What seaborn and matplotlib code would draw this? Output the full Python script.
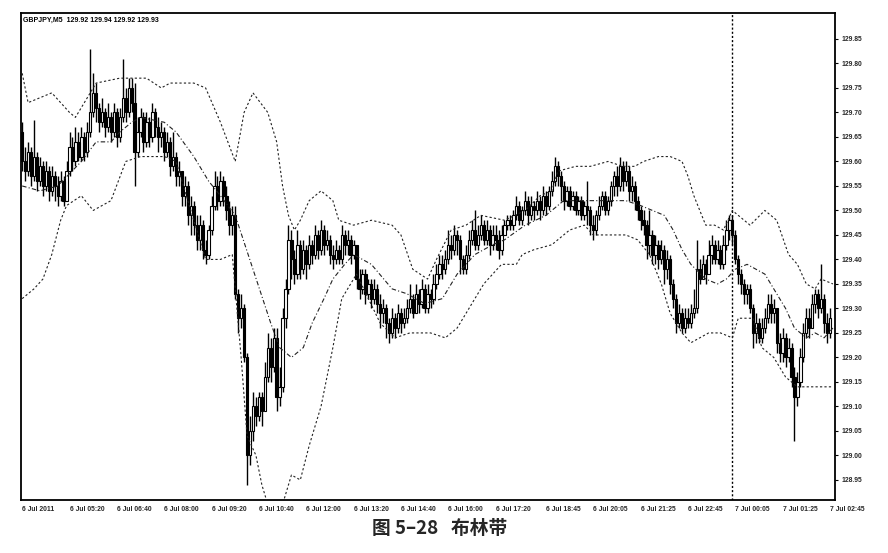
import numpy as np
import matplotlib
matplotlib.use("Agg")
import matplotlib.pyplot as plt
import seaborn as sns

# ---------------- data ----------------
first_open = 129.66
closes = [
    129.60, 129.58, 129.62, 129.57, 129.61, 129.56, 129.59, 129.55, 129.58, 129.54,
    129.57, 129.55, 129.53, 129.56, 129.52, 129.58, 129.63, 129.60, 129.64, 129.61,
    129.65, 129.62, 129.66, 129.70, 129.74, 129.71, 129.68, 129.70, 129.67, 129.69,
    129.66, 129.70, 129.65, 129.69, 129.73, 129.70, 129.75, 129.72, 129.62, 129.66,
    129.69, 129.64, 129.68, 129.65, 129.70, 129.67, 129.65, 129.66, 129.62, 129.64,
    129.59, 129.61, 129.57, 129.58, 129.53, 129.55, 129.49, 129.51, 129.47, 129.44,
    129.47, 129.42, 129.41, 129.46, 129.51, 129.55, 129.52, 129.56, 129.53, 129.50,
    129.47, 129.49, 129.33, 129.28, 129.30, 129.20, 129.00, 129.05, 129.10, 129.08,
    129.12, 129.09, 129.16, 129.22, 129.18, 129.24, 129.12, 129.14, 129.28, 129.34,
    129.44, 129.40, 129.37, 129.43, 129.38, 129.42, 129.39, 129.43, 129.41, 129.45,
    129.42, 129.46, 129.43, 129.44, 129.41, 129.40, 129.42, 129.40, 129.45, 129.43,
    129.44, 129.41, 129.43, 129.36, 129.34, 129.37, 129.33, 129.35, 129.32, 129.34,
    129.31, 129.29, 129.30, 129.27, 129.25, 129.28, 129.26, 129.29, 129.27, 129.28,
    129.30, 129.32, 129.29, 129.33, 129.31, 129.34, 129.30, 129.33, 129.32, 129.35,
    129.37, 129.39, 129.38, 129.40, 129.43, 129.42, 129.45, 129.44, 129.40, 129.38,
    129.41, 129.44, 129.46, 129.43, 129.45, 129.47, 129.44, 129.46, 129.43, 129.45,
    129.44, 129.42, 129.45, 129.47, 129.48, 129.47, 129.49, 129.51, 129.48, 129.50,
    129.52, 129.49, 129.51, 129.50, 129.52, 129.50, 129.53, 129.51, 129.54, 129.56,
    129.59, 129.57, 129.55, 129.52, 129.54, 129.51, 129.53, 129.50, 129.52, 129.49,
    129.51, 129.50, 129.47, 129.46, 129.49, 129.51, 129.53, 129.50, 129.52, 129.55,
    129.57, 129.55, 129.59, 129.56, 129.58, 129.54, 129.55, 129.52, 129.50, 129.48,
    129.47, 129.43, 129.45, 129.41, 129.43, 129.40, 129.42, 129.38, 129.40, 129.35,
    129.32, 129.27, 129.29, 129.26, 129.28, 129.27, 129.29, 129.30, 129.38, 129.36,
    129.39, 129.37, 129.41, 129.43, 129.40, 129.42, 129.39, 129.43, 129.46, 129.48,
    129.45, 129.40, 129.37, 129.35, 129.33, 129.34, 129.30, 129.25, 129.27, 129.24,
    129.26, 129.28, 129.31, 129.29, 129.30, 129.23, 129.21, 129.24, 129.20, 129.22,
    129.16, 129.12, 129.15, 129.20, 129.25, 129.28, 129.26, 129.31, 129.33, 129.30,
    129.32, 129.27, 129.25, 129.28,
]
highs = [
    129.68, 129.63, 129.64, 129.63, 129.685, 129.62, 129.61, 129.60, 129.60, 129.59,
    129.59, 129.58, 129.57, 129.58, 129.57, 129.60, 129.66, 129.65, 129.67, 129.66,
    129.67, 129.66, 129.68, 129.83, 129.78, 129.76, 129.72, 129.73, 129.71, 129.72,
    129.70, 129.72, 129.71, 129.71, 129.81, 129.75, 129.77, 129.77, 129.76, 129.69,
    129.71, 129.70, 129.70, 129.69, 129.72, 129.71, 129.69, 129.68, 129.67, 129.66,
    129.65, 129.66, 129.62, 129.60, 129.58, 129.57, 129.56, 129.53, 129.52, 129.49,
    129.49, 129.48, 129.44, 129.47, 129.53, 129.58, 129.57, 129.58, 129.57, 129.55,
    129.52, 129.51, 129.51, 129.34, 129.33, 129.31, 129.21, 129.08, 129.13, 129.12,
    129.13, 129.13, 129.19, 129.25, 129.24, 129.26, 129.26, 129.18, 129.30, 129.36,
    129.47, 129.46, 129.42, 129.46, 129.44, 129.44, 129.43, 129.45, 129.44, 129.47,
    129.46, 129.48, 129.47, 129.46, 129.45, 129.43, 129.44, 129.43, 129.47, 129.46,
    129.46, 129.45, 129.44, 129.43, 129.38, 129.38, 129.38, 129.36, 129.36, 129.36,
    129.35, 129.33, 129.32, 129.31, 129.28, 129.30, 129.29, 129.31, 129.30, 129.30,
    129.32, 129.35, 129.33, 129.35, 129.34, 129.36, 129.35, 129.35, 129.34, 129.37,
    129.39, 129.41, 129.41, 129.42, 129.46, 129.45, 129.47, 129.46, 129.45, 129.41,
    129.43, 129.46, 129.48, 129.50, 129.47, 129.49, 129.48, 129.48, 129.47, 129.47,
    129.47, 129.46, 129.47, 129.48, 129.49, 129.49, 129.50, 129.53, 129.52, 129.51,
    129.54, 129.53, 129.53, 129.52, 129.54, 129.53, 129.55, 129.54, 129.55, 129.58,
    129.61, 129.60, 129.58, 129.56, 129.55, 129.55, 129.54, 129.54, 129.53, 129.53,
    129.52, 129.56, 129.51, 129.49, 129.50, 129.53, 129.54, 129.54, 129.53, 129.56,
    129.58, 129.59, 129.61, 129.60, 129.60, 129.59, 129.57, 129.56, 129.53, 129.51,
    129.50, 129.48, 129.50, 129.46, 129.45, 129.44, 129.44, 129.43, 129.42, 129.41,
    129.36, 129.33, 129.31, 129.30, 129.30, 129.30, 129.31, 129.34, 129.44, 129.40,
    129.41, 129.40, 129.44, 129.45, 129.44, 129.44, 129.43, 129.45, 129.48, 129.49,
    129.49, 129.46, 129.41, 129.38, 129.36, 129.35, 129.35, 129.31, 129.29, 129.28,
    129.28, 129.30, 129.33, 129.33, 129.32, 129.30, 129.25, 129.26, 129.25, 129.24,
    129.23, 129.18, 129.17, 129.22, 129.27, 129.30, 129.30, 129.33, 129.34, 129.34,
    129.39, 129.33, 129.29, 129.30,
]
lows = [
    129.58, 129.56, 129.57, 129.55, 129.56, 129.54, 129.55, 129.53, 129.54, 129.52,
    129.53, 129.52, 129.51, 129.52, 129.51, 129.52, 129.57, 129.58, 129.59, 129.60,
    129.60, 129.60, 129.61, 129.65, 129.69, 129.68, 129.66, 129.67, 129.65, 129.66,
    129.64, 129.65, 129.63, 129.64, 129.68, 129.68, 129.69, 129.70, 129.55, 129.61,
    129.65, 129.62, 129.63, 129.63, 129.64, 129.65, 129.62, 129.63, 129.60, 129.61,
    129.57, 129.58, 129.55, 129.55, 129.51, 129.51, 129.47, 129.45, 129.45, 129.42,
    129.42, 129.40, 129.39, 129.40, 129.45, 129.50, 129.50, 129.51, 129.51, 129.48,
    129.45, 129.45, 129.32, 129.25, 129.26, 129.19, 128.94, 128.98, 129.03, 129.06,
    129.07, 129.06, 129.09, 129.15, 129.15, 129.17, 129.09, 129.10, 129.13, 129.26,
    129.33, 129.36, 129.35, 129.36, 129.36, 129.37, 129.36, 129.38, 129.39, 129.40,
    129.40, 129.41, 129.41, 129.42, 129.39, 129.38, 129.39, 129.39, 129.39, 129.41,
    129.41, 129.39, 129.40, 129.34, 129.32, 129.33, 129.31, 129.32, 129.30, 129.31,
    129.29, 129.26, 129.27, 129.24, 129.23, 129.24, 129.24, 129.25, 129.25, 129.26,
    129.27, 129.29, 129.28, 129.29, 129.29, 129.30, 129.29, 129.29, 129.30, 129.31,
    129.34, 129.36, 129.36, 129.37, 129.39, 129.40, 129.41, 129.41, 129.37, 129.37,
    129.37, 129.40, 129.43, 129.42, 129.42, 129.44, 129.43, 129.43, 129.41, 129.42,
    129.42, 129.40, 129.41, 129.45, 129.46, 129.46, 129.46, 129.48, 129.47, 129.47,
    129.49, 129.47, 129.48, 129.48, 129.49, 129.48, 129.49, 129.49, 129.50, 129.53,
    129.55, 129.55, 129.52, 129.50, 129.51, 129.50, 129.50, 129.49, 129.49, 129.48,
    129.48, 129.47, 129.45, 129.44, 129.45, 129.48, 129.50, 129.49, 129.49, 129.51,
    129.53, 129.53, 129.54, 129.54, 129.55, 129.52, 129.52, 129.50, 129.48, 129.46,
    129.45, 129.40, 129.41, 129.39, 129.39, 129.38, 129.39, 129.35, 129.36, 129.33,
    129.30, 129.25, 129.26, 129.25, 129.25, 129.26, 129.26, 129.28, 129.29, 129.35,
    129.36, 129.35, 129.37, 129.39, 129.39, 129.39, 129.38, 129.38, 129.42, 129.44,
    129.43, 129.39, 129.35, 129.33, 129.31, 129.31, 129.29, 129.22, 129.23, 129.23,
    129.23, 129.25, 129.27, 129.27, 129.27, 129.21, 129.19, 129.19, 129.18, 129.19,
    129.14, 129.03, 129.10, 129.14, 129.19, 129.24, 129.24, 129.26, 129.29, 129.28,
    129.29, 129.25, 129.23, 129.24,
]

upper_idx = [0, 2, 10, 16, 18, 25, 33, 38, 42, 47, 50, 53, 58, 62, 67, 72, 75, 78, 83, 86,
             88, 90, 92, 94, 97, 101, 105, 107, 112, 118, 125, 128, 132, 137, 140, 145, 150,
             155, 163, 170, 175, 179, 181, 187, 192, 198, 203, 207, 210, 215, 219, 223, 225,
             227, 231, 234, 237, 240, 246, 251, 255, 259, 262, 265, 268, 270, 274]
upper_val = [129.78, 129.72, 129.74, 129.70, 129.69, 129.76, 129.77, 129.77, 129.77, 129.75,
             129.76, 129.76, 129.76, 129.75, 129.68, 129.60, 129.70, 129.74, 129.70, 129.64,
             129.55, 129.49, 129.46, 129.48, 129.52, 129.54, 129.52, 129.48, 129.47, 129.48,
             129.47, 129.45, 129.38, 129.36, 129.40, 129.46, 129.47, 129.49, 129.48, 129.50,
             129.53, 129.54, 129.58, 129.59, 129.59, 129.60, 129.59, 129.59, 129.60, 129.61,
             129.61, 129.60, 129.57, 129.53, 129.47, 129.47, 129.46, 129.50, 129.47, 129.50,
             129.48, 129.41, 129.39, 129.35, 129.34, 129.36, 129.35]
mid_idx = [0, 6, 12, 20, 25, 30, 33, 37, 40, 48, 52, 58, 63, 67, 72, 78, 84, 87, 91, 95,
           98, 102, 105, 109, 112, 118, 125, 130, 136, 142, 147, 153, 159, 163, 170, 177,
           183, 189, 195, 200, 204, 209, 213, 217, 220, 223, 226, 231, 235, 238, 241, 245,
           251, 254, 258, 261, 265, 268, 271, 274]
mid_val = [129.55, 129.54, 129.55, 129.60, 129.64, 129.64, 129.66, 129.68, 129.69, 129.68,
           129.66, 129.61, 129.56, 129.53, 129.49, 129.38, 129.27, 129.22, 129.20, 129.22,
           129.27, 129.32, 129.36, 129.39, 129.41, 129.39, 129.34, 129.33, 129.31, 129.32,
           129.37, 129.41, 129.43, 129.44, 129.47, 129.49, 129.52, 129.52, 129.52, 129.52,
           129.52, 129.51, 129.50, 129.49, 129.46, 129.42, 129.39, 129.36, 129.35, 129.36,
           129.38, 129.39, 129.37, 129.34, 129.30, 129.26, 129.24, 129.25, 129.24, 129.26]
lower_idx = [0, 4, 7, 10, 13, 15, 20, 24, 30, 35, 40, 48, 52, 57, 62, 67, 71, 74, 76, 79,
             81, 83, 85, 88, 91, 94, 97, 101, 105, 108, 111, 113, 117, 121, 126, 131, 138,
             143, 147, 152, 156, 162, 167, 169, 173, 179, 185, 190, 193, 196, 204, 208, 212,
             216, 219, 223, 226, 232, 236, 240, 242, 247, 250, 254, 258, 262, 265, 271, 274]
lower_val = [129.32, 129.34, 129.36, 129.41, 129.48, 129.51, 129.53, 129.50, 129.52, 129.60,
             129.61, 129.61, 129.60, 129.50, 129.40, 129.40, 129.41, 129.20, 129.04, 129.00,
             128.94, 128.90, 128.86, 128.90, 128.96, 128.95, 129.02, 129.10, 129.22, 129.32,
             129.35, 129.37, 129.32, 129.27, 129.24, 129.25, 129.25, 129.24, 129.26, 129.31,
             129.35, 129.39, 129.39, 129.41, 129.42, 129.43, 129.46, 129.47, 129.45, 129.45,
             129.45, 129.44, 129.41, 129.35, 129.29, 129.25, 129.23, 129.25, 129.25, 129.24,
             129.28, 129.28, 129.22, 129.20, 129.16, 129.14, 129.14, 129.14, 129.14]

tick_idx = [0, 16, 32, 48, 64, 80, 96, 112, 128, 144, 160, 177, 193, 209, 225, 241, 257, 273]
tick_labels = ["6 Jul 2011", "6 Jul 05:20", "6 Jul 06:40", "6 Jul 08:00", "6 Jul 09:20",
               "6 Jul 10:40", "6 Jul 12:00", "6 Jul 13:20", "6 Jul 14:40", "6 Jul 16:00",
               "6 Jul 17:20", "6 Jul 18:45", "6 Jul 20:05", "6 Jul 21:25", "6 Jul 22:45",
               "7 Jul 00:05", "7 Jul 01:25", "7 Jul 02:45"]
price_ticks = [128.95, 129.00, 129.05, 129.10, 129.15, 129.20, 129.25, 129.30, 129.35,
               129.40, 129.45, 129.50, 129.55, 129.60, 129.65, 129.70, 129.75, 129.80, 129.85]
day_sep_idx = 240
title_text = "GBPJPY,M5  129.92 129.94 129.92 129.93"
caption = "图 5–28   布林带"

# ---------------- drawing ----------------
sns.set_style("white")
plt.rcParams["font.family"] = ["Liberation Sans", "DejaVu Sans"]

fig = plt.figure(figsize=(8.88, 5.53), dpi=100)
ax = fig.add_axes([21 / 888, 1 - 500 / 553, (835 - 21) / 888, (500 - 13) / 553])

c = np.array(closes)
h = np.array(highs)
l = np.array(lows)
o = np.concatenate([[first_open], c[:-1]])
idx = np.arange(len(c))

ax.vlines(idx, l, h, color="black", lw=1.0, zorder=2)
bot = np.minimum(o, c)
hgt = np.maximum(np.abs(c - o), 0.004)
up = c >= o
ax.bar(idx[up], hgt[up], bottom=bot[up], width=0.78, facecolor="white",
       edgecolor="black", linewidth=0.8, zorder=3)
ax.bar(idx[~up], hgt[~up], bottom=bot[~up], width=0.78, facecolor="black",
       edgecolor="black", linewidth=0.8, zorder=3)

sns.lineplot(x=upper_idx, y=upper_val, ax=ax, color="#222222", lw=0.8,
             linestyle=(0, (2.0, 2.0)), zorder=4)
sns.lineplot(x=mid_idx, y=mid_val, ax=ax, color="#222222", lw=0.8,
             linestyle=(0, (4.0, 2.0, 1.0, 2.0)), zorder=4)
sns.lineplot(x=lower_idx, y=lower_val, ax=ax, color="#222222", lw=0.8,
             linestyle=(0, (2.0, 2.0)), zorder=4)

ax.axvline(day_sep_idx, color="black", lw=1.0, linestyle=(0, (1.5, 1.5)), zorder=1)

ax.set_xlim(-0.4, 274.7)
ax.set_ylim(128.909, 129.903)

ax.yaxis.tick_right()
ax.set_yticks(price_ticks)
ax.set_yticklabels([f"{v:.2f}" for v in price_ticks], fontsize=4.9, fontweight="bold")
ax.set_xticks(tick_idx)
ax.set_xticklabels(tick_labels, fontsize=4.9, fontweight="bold", ha="left")
ax.tick_params(axis="both", direction="out", length=2.5, width=0.8, color="black", pad=2)
ax.tick_params(axis="x", pad=1.5)
ax.set_xlabel("")
ax.set_ylabel("")

for s in ax.spines.values():
    s.set_visible(True)
    s.set_color("black")
    s.set_linewidth(1.3)

ax.text(0.003, 0.993, title_text, transform=ax.transAxes, ha="left", va="top",
        fontsize=5.0, fontweight="bold", color="black")

fig.text(440 / 888, 1 - 529 / 553, caption, ha="center", va="center", fontsize=13.5,
         fontweight="bold", family=["Noto Sans CJK SC", "DejaVu Sans"])

fig.savefig("out.png", dpi=100)
